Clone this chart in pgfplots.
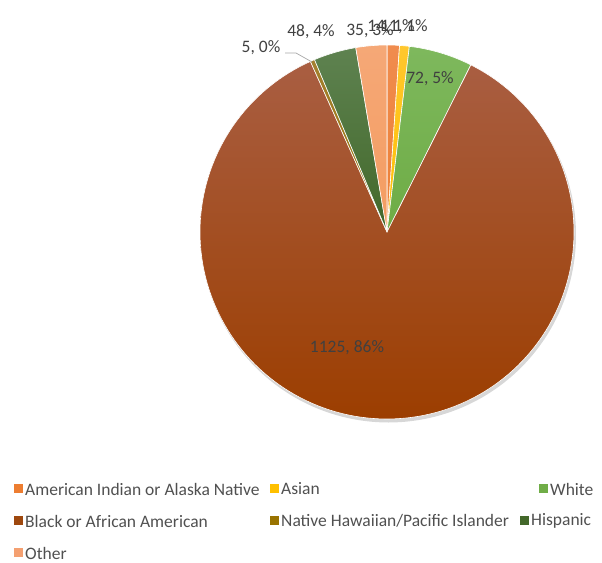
\documentclass[border=0pt]{standalone}
\usepackage{pgfplots}
\usepackage{pgfplotstable}
\pgfplotsset{compat=1.18}
\usepackage{fontspec}
\setmainfont{Carlito}
\definecolor{txt}{HTML}{505050}
\definecolor{lbl}{HTML}{404040}
% slice colours: top / bottom of the gradient
\definecolor{t0}{HTML}{F08C4E}\definecolor{b0}{HTML}{EC7E33}
\definecolor{t1}{HTML}{FFC72E}\definecolor{b1}{HTML}{FFC000}
\definecolor{t2}{HTML}{7EB85D}\definecolor{b2}{HTML}{6EAC45}
\definecolor{t3}{HTML}{A95E42}\definecolor{b3}{HTML}{9C3E00}
\definecolor{t4}{HTML}{A48030}\definecolor{b4}{HTML}{977200}
\definecolor{t5}{HTML}{5E8250}\definecolor{b5}{HTML}{42682A}
\definecolor{t6}{HTML}{F5A877}\definecolor{b6}{HTML}{F49C60}
\definecolor{l0}{HTML}{ED7D31}\definecolor{l1}{HTML}{FFC000}
\definecolor{l2}{HTML}{70AD47}\definecolor{l3}{HTML}{9E480E}
\definecolor{l4}{HTML}{997300}\definecolor{l5}{HTML}{43682B}
\definecolor{l6}{HTML}{F4A071}

\pgfplotstableread[col sep=comma]{
group,value
American Indian or Alaska Native,14
Asian,11
White,72
Black or African American,1125
Native Hawaiian/Pacific Islander,5
Hispanic,48
Other,35
}\piedata

\begin{document}
\begin{tikzpicture}
\def\cx{387}\def\cy{232}\def\rr{187}
% cumulative sums
\def\cum{0}
\pgfplotsforeachungrouped \i in {0,...,6}{%
  \pgfplotstablegetelem{\i}{value}\of\piedata
  \expandafter\xdef\csname st\i\endcsname{\cum}%
  \pgfmathsetmacro\cum{\cum+\pgfplotsretval}%
  \expandafter\xdef\csname en\i\endcsname{\cum}%
}
\pgfmathsetmacro\total{\cum}
\pgfplotsforeachungrouped \i in {0,...,6}{%
  \pgfmathsetmacro\a{360*(\csname st\i\endcsname/\total)}%
  \pgfmathsetmacro\b{360*(\csname en\i\endcsname/\total)}%
  \expandafter\xdef\csname A\i\endcsname{\a}%
  \expandafter\xdef\csname B\i\endcsname{\b}%
}
\begin{axis}[name=ax, hide axis, scale only axis, width=602pt, height=562pt,
  xmin=0, xmax=602, ymin=0, ymax=562, y dir=reverse, clip=false,
  every axis plot/.append style={no markers}]
% shadow
\addplot[fill=black!45, draw=none, opacity=0.35, domain=0:360, samples=200]
  ({\cx+1.5+(\rr+0.5)*sin(x)},{\cy+3+(\rr+0.5)*cos(x)}) -- cycle;
\pgfplotsinvokeforeach{0,...,6}{%
  \edef\aa{\csname A#1\endcsname}\edef\bb{\csname B#1\endcsname}%
  \addplot[top color=t#1, bottom color=b#1, draw=white, line width=0.6pt,
    line join=round, domain=\aa:\bb, samples=160]
    ({\cx+\rr*sin(x)},{\cy-\rr*cos(x)}) -- (axis cs:\cx,\cy) -- cycle;
}
% data labels
\begin{scope}[every node/.style={font=\fontsize{17.5}{20}\selectfont, text=lbl, inner sep=0pt}]
\node at (axis cs:347,348) {1125, 86\%};
\node at (axis cs:430,79) {72, 5\%};
\node at (axis cs:311,32) {48, 4\%};
\node at (axis cs:370,31) {35, 3\%};
\node at (axis cs:391,27) {14, 1\%};
\node at (axis cs:404,27) {11, 1\%};
\node at (axis cs:261,48) {5, 0\%};
\end{scope}
\draw[black!35, line width=0.7pt] (axis cs:285,53) -- (axis cs:296,53) -- (axis cs:312,62);
% legend
\begin{scope}[every node/.style={font=\fontsize{17.5}{20}\selectfont, text=txt, inner sep=0pt, anchor=west}]
\fill[l0] (axis cs:14,484) rectangle (axis cs:23,493);
\node at (axis cs:25,489) {American Indian or Alaska Native};
\fill[l1] (axis cs:270,484) rectangle (axis cs:279,493);
\node at (axis cs:281,489) {Asian};
\fill[l2] (axis cs:539,484) rectangle (axis cs:548,493);
\node at (axis cs:550,489) {White};
\fill[l3] (axis cs:14,516) rectangle (axis cs:23,525);
\node at (axis cs:25,521) {Black or African American};
\fill[l4] (axis cs:270,516) rectangle (axis cs:279,525);
\node at (axis cs:281,521) {Native Hawaiian/Pacific Islander};
\fill[l5] (axis cs:520,516) rectangle (axis cs:529,525);
\node at (axis cs:531,521) {Hispanic};
\fill[l6] (axis cs:14,548) rectangle (axis cs:23,557);
\node at (axis cs:25,553) {Other};
\end{scope}
\end{axis}
\pgfresetboundingbox
\path (ax.south west) rectangle (ax.north east);
\end{tikzpicture}
\end{document}
